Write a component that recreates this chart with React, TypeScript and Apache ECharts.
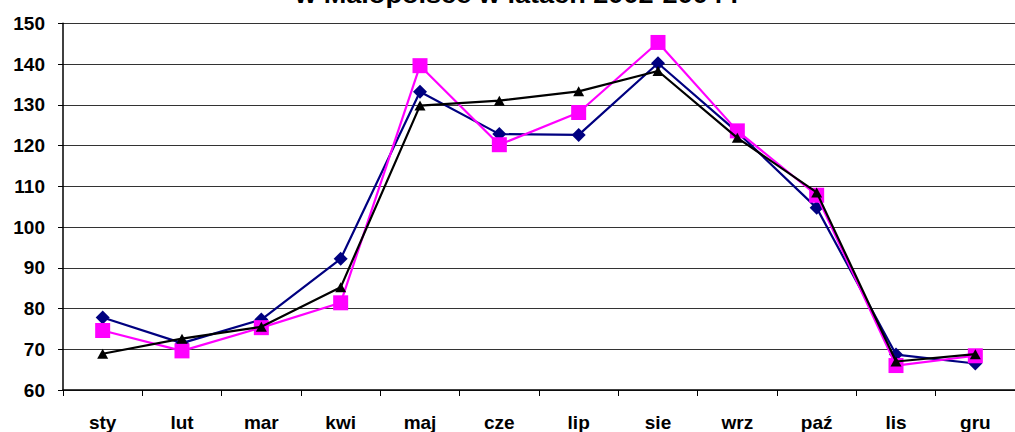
import React, { useEffect, useRef } from "react";
import * as echarts from "echarts";

const months = ["sty", "lut", "mar", "kwi", "maj", "cze", "lip", "sie", "wrz", "paź", "lis", "gru"];
const series2002 = [77.8, 71.5, 77.3, 92.2, 133.2, 122.8, 122.6, 140.2, 123.3, 104.7, 68.7, 66.5];
const series2003 = [74.6, 69.6, 75.3, 81.4, 139.6, 120.2, 128.1, 145.3, 123.6, 107.8, 66.0, 68.4];
const series2004 = [68.9, 72.6, 75.5, 85.2, 129.8, 131.0, 133.3, 138.3, 121.9, 108.5, 67.0, 68.8];
const titleText = "w Małopolsce w latach 2002-2004 r";

export default function App() {
  const ref = useRef<HTMLDivElement>(null);
  useEffect(() => {
    document.body.style.margin = "0";
    const chart = echarts.init(ref.current!, null, { renderer: "svg" });
    const font = "Liberation Sans, Arial, sans-serif";
    chart.setOption({
      animation: false,
      backgroundColor: "#ffffff",
      graphic: [
        {
          type: "text",
          x: 518,
          y: 7,
          scaleX: 1.13,
          style: {
            text: titleText,
            fontFamily: font,
            fontWeight: "bold",
            fontSize: 24,
            fill: "#000",
            align: "center",
            verticalAlign: "bottom",
          },
        },
      ],
      grid: { left: 63, top: 23.3, bottom: 41.3, right: -11.6 },
      xAxis: {
        type: "category",
        data: months,
        boundaryGap: true,
        axisLine: { lineStyle: { color: "#000", width: 1.5 } },
        axisTick: { show: true, interval: 0, length: 6, lineStyle: { color: "#000" } },
        axisLabel: {
          interval: 0,
          margin: 23,
          fontFamily: font,
          fontWeight: "bold",
          fontSize: 19,
          color: "#000",
        },
        splitLine: { show: false },
      },
      yAxis: {
        type: "value",
        min: 60,
        max: 150,
        interval: 10,
        axisLine: { show: true, lineStyle: { color: "#000", width: 1.5 } },
        axisTick: { show: true, length: 5, lineStyle: { color: "#000" } },
        axisLabel: {
          margin: 18,
          fontFamily: font,
          fontWeight: "bold",
          fontSize: 19,
          color: "#000",
        },
        splitLine: { show: true, lineStyle: { color: "#333", width: 1 } },
      },
      series: [
        {
          name: "2002",
          type: "line",
          data: series2002,
          symbol: "diamond",
          symbolSize: 14,
          lineStyle: { color: "#000080", width: 2.2 },
          itemStyle: { color: "#000080" },
          z: 2,
        },
        {
          name: "2003",
          type: "line",
          data: series2003,
          symbol: "rect",
          symbolSize: 15,
          lineStyle: { color: "#ff00ff", width: 2.2 },
          itemStyle: { color: "#ff00ff" },
          z: 3,
        },
        {
          name: "2004",
          type: "line",
          data: series2004,
          symbol: "triangle",
          symbolSize: [11, 10],
          lineStyle: { color: "#000000", width: 2.2 },
          itemStyle: { color: "#000000" },
          z: 4,
        },
      ],
    });
    return () => chart.dispose();
  }, []);
  return <div ref={ref} style={{ width: 1015, height: 432 }} />;
}
